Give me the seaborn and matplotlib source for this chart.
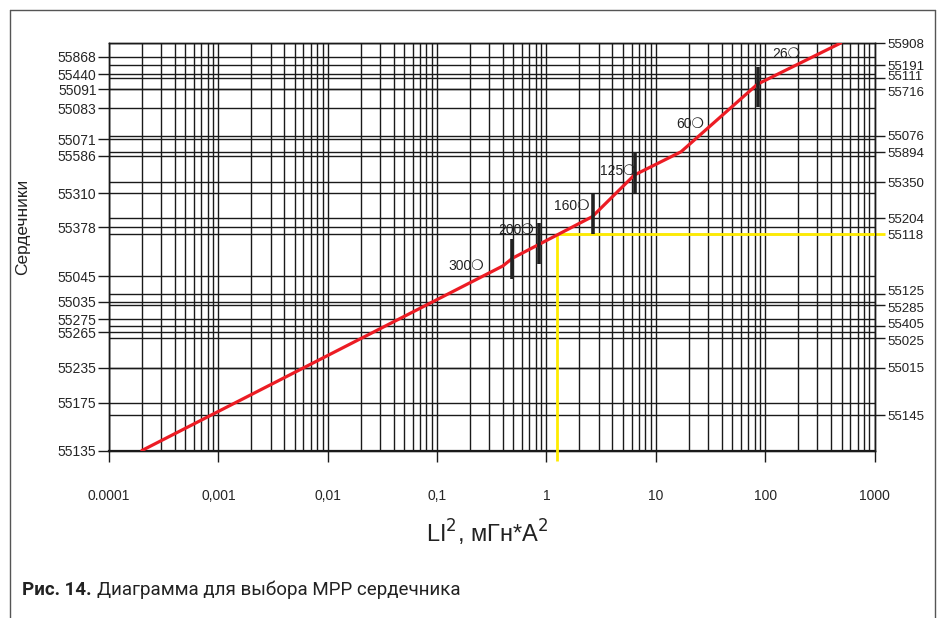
import pandas as pd
import matplotlib
matplotlib.use("Agg")
import matplotlib.pyplot as plt
import matplotlib.transforms as mtransforms
import seaborn as sns
from matplotlib.lines import Line2D

# ось X: LI^2 (логарифмическая)
x_ticks = [1e-4, 1e-3, 1e-2, 1e-1, 1, 10, 100, 1000]
x_tick_labels = ["0.0001", "0,001", "0,01", "0,1", "1", "10", "100", "1000"]

# ось Y: положение линий сетки (0 = низ, 100 = верх) и подписи
left_pos = [96.6, 92.3, 88.7, 84.0, 76.4, 72.3, 63.1, 54.8, 42.8, 36.5, 32.2, 29.0, 20.3, 11.7, 0.0]
left_labels = ["55868", "55440", "55091", "55083", "55071", "55586", "55310", "55378",
               "55045", "55035", "55275", "55265", "55235", "55175", "55135"]
right_pos = [100.0, 94.6, 91.4, 88.7, 77.2, 73.2, 65.8, 57.0, 53.1, 38.4, 35.7, 30.6, 27.7, 20.3, 8.7]
right_labels = ["55908", "55191", "55111", "55716", "55076", "55894", "55350", "55204",
                "55118", "55125", "55285", "55405", "55025", "55015", "55145"]
# небольшие сдвиги правых подписей (пт), чтобы не слипались
right_nudge = [0, 0, 1.5, -1.5, 0, 0, 0, 0, 0, 2.5, -2, 1.5, -2, 0, 0]

# красная кривая
curve_x = [0.0002, 0.40, 0.49, 2.63, 6.37, 17.0, 85.1, 491]
curve_y = [0.0, 45.3, 47.2, 57.4, 67.6, 73.3, 89.9, 100.0]

# вертикальные отрезки (границы проницаемости)
bar_x = [0.48, 0.85, 2.65, 6.5, 86.3]
bar_lo = [42.0, 45.8, 53.1, 63.3, 84.4]
bar_hi = [51.8, 55.8, 63.0, 73.3, 94.2]

# подписи проницаемости
perm = ["300", "200", "160", "125", "60", "26"]
perm_x = [0.27, 0.78, 2.47, 6.5, 27.7, 209]
perm_y = [45.3, 54.1, 60.0, 68.7, 80.1, 97.4]

# жёлтая линия примера
yel_x = 1.25
yel_y = 53.1

RED = "#ec1c24"
YELLOW = "#ffec00"
GRID = "#1a1a1a"


def main():
    sns.set_theme(style="ticks")
    plt.rcParams["font.family"] = ["Liberation Sans", "DejaVu Sans"]

    fig, ax = plt.subplots(figsize=(9.45, 6.18), dpi=100)
    fig.subplots_adjust(left=0.1153, right=0.9254, bottom=0.271, top=0.9304)
    ax2 = ax.twinx()
    ax.set_zorder(ax2.get_zorder() + 1)
    ax.patch.set_visible(False)

    ax.set_xscale("log")
    ax.set_xlim(1e-4, 1e3)
    ax.set_ylim(0, 100)
    ax2.set_ylim(0, 100)

    # сетка
    ax.set_xticks(x_ticks, x_tick_labels)
    ax.set_yticks(left_pos, left_labels)
    ax2.set_yticks(right_pos, right_labels)
    ax.grid(True, which="both", axis="x", color=GRID, lw=1.0)
    ax.grid(True, which="major", axis="y", color=GRID, lw=1.0)
    ax2.grid(True, which="major", axis="y", color=GRID, lw=1.0)

    ax.tick_params(axis="x", which="major", length=8, width=1, color=GRID, pad=20, labelsize=10)
    ax.tick_params(axis="x", which="minor", length=0)
    ax.tick_params(axis="y", length=8, width=1, color=GRID, pad=1, labelsize=10)
    ax2.tick_params(axis="y", length=7, width=1, color=GRID, pad=2, labelsize=9.5)
    for lbl, dy in zip(ax2.get_yticklabels(), right_nudge):
        lbl.set_color("#222222")
        if dy:
            lbl.set_transform(lbl.get_transform() +
                              mtransforms.ScaledTranslation(0, dy / 72, fig.dpi_scale_trans))
    for t, lab in zip(ax2.yaxis.get_major_ticks(), right_labels):
        if lab == "55118":
            t.tick2line.set_markeredgecolor(YELLOW)
            t.tick2line.set_markeredgewidth(2)

    for a in (ax, ax2):
        for s in a.spines.values():
            s.set_color(GRID)
            s.set_linewidth(1.0)
    ax.spines["bottom"].set_linewidth(1.6)

    # жёлтая линия
    ax.vlines(yel_x, -2.6, yel_y, color=YELLOW, lw=2.0, clip_on=False, zorder=3)
    ax.hlines(yel_y, yel_x, 1e3, color=YELLOW, lw=2.0, zorder=3)

    # кривая
    df = pd.DataFrame({"LI2": curve_x, "pos": curve_y})
    sns.lineplot(data=df, x="LI2", y="pos", color=RED, lw=2.3, sort=False, ax=ax, zorder=4)

    ax.vlines(bar_x, bar_lo, bar_hi, color="#222222", lw=2.6, zorder=5)
    for p, px, py in zip(perm, perm_x, perm_y):
        ax.text(px, py, p + "\u274d", ha="right", va="center", fontsize=10, color="#222222",
                family=["Liberation Sans", "DejaVu Sans"], zorder=6)

    ax.set_ylabel("Сердечники", fontsize=12.5, color="#222222")
    ax.yaxis.set_label_coords(-0.103, 0.55)
    ax.set_xlabel("LI$^2$, мГн*А$^2$", fontsize=17, color="#222222")
    ax.xaxis.set_label_coords(0.494, -0.202)
    ax.xaxis.label.set_va("center")

    # рамка
    l, r, t = 10 / 945, 935 / 945, 1 - 10 / 618
    for xs, ys in [([l, l], [0, t]), ([l, r], [t, t]), ([r, r], [0, t])]:
        fig.add_artist(Line2D(xs, ys, transform=fig.transFigure, color="#555555", lw=1.0))

    # подпись рисунка
    cap_font = ["Liberation Sans Narrow", "Roboto", "DejaVu Sans"]
    cap = fig.text(22 / 945, 1 - 590 / 618, "Рис. 14.", fontsize=13.5, fontweight="bold",
                   family=cap_font, va="center", color="#222222")
    ax.annotate("Диаграмма для выбора MPP сердечника", xy=(1, 0.5), xycoords=cap,
                xytext=(4, 0), textcoords="offset points", va="center", fontsize=13.5,
                family=cap_font, color="#222222", annotation_clip=False)

    fig.savefig("out.png", dpi=100)
    plt.close(fig)


if __name__ == "__main__":
    main()
